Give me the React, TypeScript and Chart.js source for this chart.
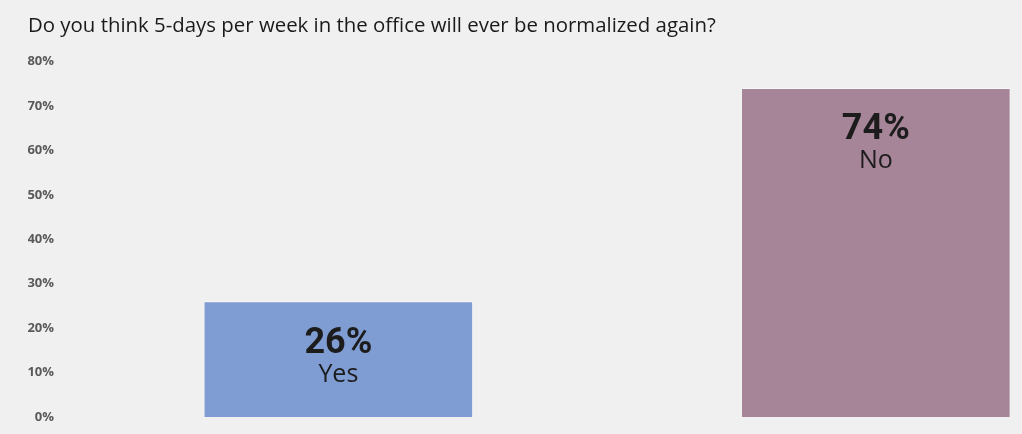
import React, { useEffect, useRef } from "react";
import { Chart, registerables, Plugin } from "chart.js";

Chart.register(...registerables);

const titleText = "Do you think 5-days per week in the office will ever be normalized again?";
const answers = ["Yes", "No"];
const shares = [26, 74];
const positions = [0, 1];
const barColors = ["#7f9dd3", "#a68598"];
const yTicksMax = 80;
const yTickStep = 10;

// draws "26%" / "Yes" inside the top of each bar
const barLabels: Plugin<"bar"> = {
  id: "barLabels",
  afterDatasetsDraw(chart) {
    const ctx = chart.ctx;
    const meta = chart.getDatasetMeta(0);
    ctx.save();
    ctx.textAlign = "center";
    ctx.textBaseline = "alphabetic";
    ctx.fillStyle = "#1c1c1c";
    meta.data.forEach((bar: any, i: number) => {
      ctx.font = "bold 36px Roboto";
      ctx.fillText(`${shares[i]}%`, bar.x, bar.y + 51);
      ctx.font = "25px 'Open Sans'";
      ctx.fillText(answers[i], bar.x, bar.y + 80);
    });
    ctx.restore();
  },
};

const App = () => {
  const chartRef = useRef<HTMLCanvasElement | null>(null);
  const chartInstance = useRef<Chart | null>(null);

  useEffect(() => {
    document.body.style.margin = "0";
    document.body.style.background = "#f0f0f0";
    const ctx = chartRef.current?.getContext("2d");
    if (!ctx) return;

    if (chartInstance.current) {
      chartInstance.current.destroy();
    }

    chartInstance.current = new Chart(ctx, {
      type: "bar",
      data: {
        datasets: [
          {
            label: "Share",
            data: positions.map((x, i) => ({ x, y: shares[i] })),
            backgroundColor: barColors,
            borderColor: "rgba(255,255,255,0.45)",
            borderWidth: 1,
            barThickness: 269,
          },
        ],
      },
      options: {
        animation: false,
        responsive: true,
        maintainAspectRatio: false,
        layout: {
          padding: { left: 28, right: 0, top: 0, bottom: 17 },
        },
        scales: {
          x: {
            type: "linear",
            display: false,
            offset: false,
            min: -0.503,
            max: 1.272,
          },
          y: {
            min: 0,
            max: yTicksMax,
            afterFit: (scale: any) => {
              scale.width = 40;
              scale.paddingTop = 0;
              scale.paddingBottom = 0;
            },
            ticks: {
              stepSize: yTickStep,
              padding: 14,
              color: "#595959",
              font: { family: "'Open Sans'", size: 13, weight: "bold" },
              callback: (val: string | number) => `${val}%`,
            },
            grid: { display: false, drawTicks: false },
            border: { display: false },
          },
        },
        plugins: {
          legend: { display: false },
          tooltip: { enabled: false },
          title: {
            display: true,
            text: titleText,
            align: "start",
            color: "#1a1a1a",
            font: { family: "'Open Sans'", size: 20.4, weight: "normal" },
            padding: { top: 13.5, bottom: 23.75 },
          },
        },
      },
      plugins: [barLabels],
    });

    return () => {
      chartInstance.current?.destroy();
      chartInstance.current = null;
    };
  }, []);

  return (
    <div style={{ width: "1022px", height: "434px", background: "#f0f0f0" }}>
      <canvas ref={chartRef} />
    </div>
  );
};

export default App;
